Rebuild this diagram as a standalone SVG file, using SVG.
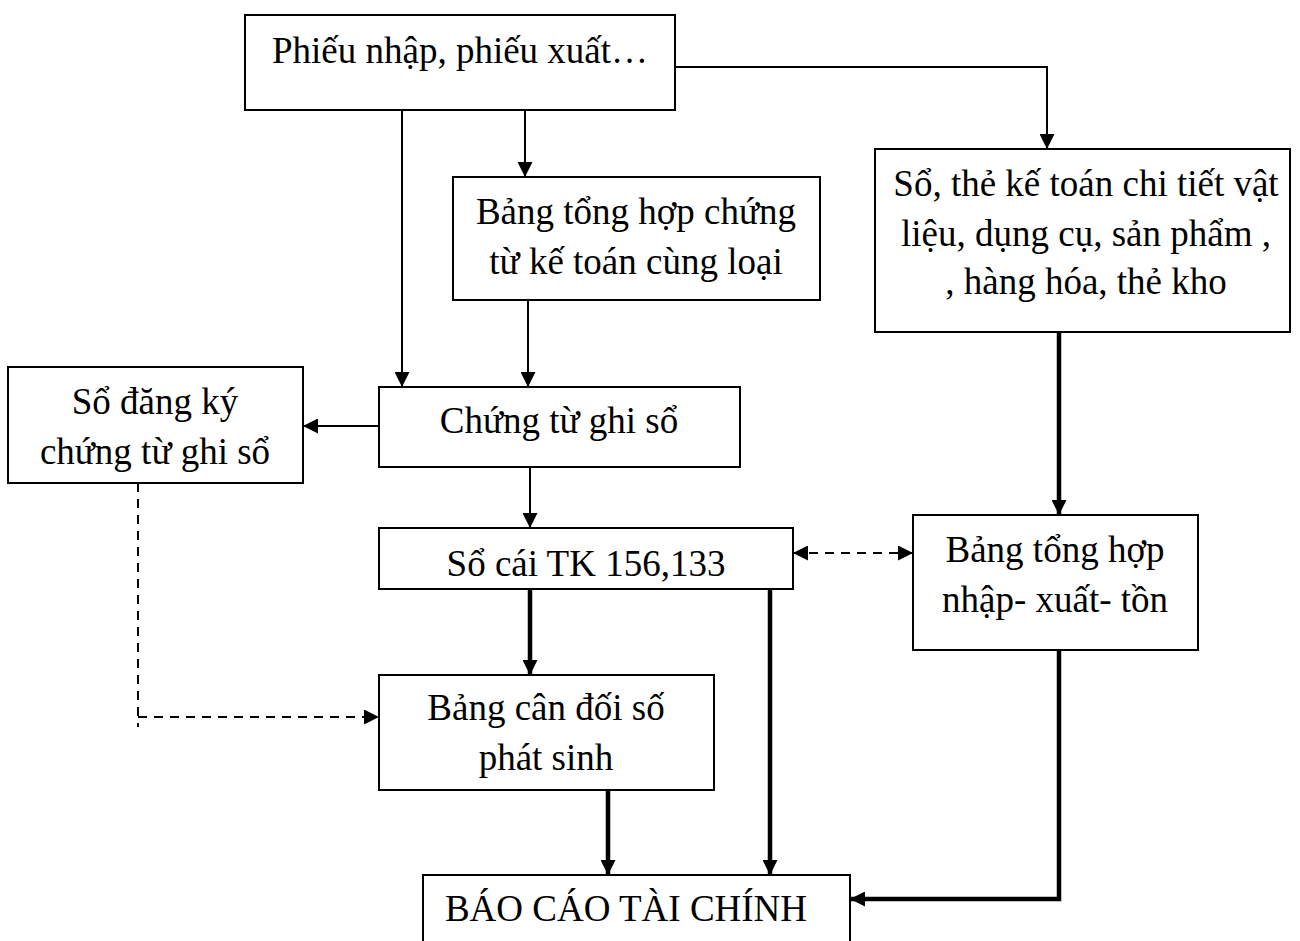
<svg xmlns="http://www.w3.org/2000/svg" width="1300" height="941" viewBox="0 0 1300 941">
<style>
.box{fill:#fff;stroke:#000;stroke-width:2}
text{font-family:"Liberation Serif","Times New Roman",serif;font-size:37px;fill:#000;text-anchor:middle}
.thin{stroke:#000;stroke-width:2;fill:none}
.thick{stroke:#000;stroke-width:4.5;fill:none}
.dash{stroke:#000;stroke-width:2;fill:none;stroke-dasharray:9,7}
</style>
<defs>
<marker id="ah" viewBox="0 0 10 10" refX="10" refY="5" markerWidth="15" markerHeight="15" markerUnits="userSpaceOnUse" orient="auto-start-reverse"><path d="M0,0 L10,5 L0,10 z" fill="#000"/></marker>
<marker id="ahk" viewBox="0 0 10 10" refX="10" refY="5" markerWidth="15" markerHeight="15" markerUnits="userSpaceOnUse" orient="auto-start-reverse"><path d="M0,0 L10,5 L0,10 z" fill="#000"/></marker>
</defs>
<g id="connectors">
<path class="thin" d="M675,67 H1047 V149" marker-end="url(#ah)"/>
<path class="thin" d="M402,110 V387" marker-end="url(#ah)"/>
<path class="thin" d="M525,110 V177" marker-end="url(#ah)"/>
<path class="thin" d="M528,300 V387" marker-end="url(#ah)"/>
<path class="thin" d="M379,426 H303" marker-end="url(#ah)"/>
<path class="thin" d="M530,467 V528" marker-end="url(#ah)"/>
<path class="dash" d="M793,553 H913" marker-start="url(#ah)" marker-end="url(#ah)"/>
<path class="dash" d="M138,483 V727 M138,717 H379" marker-end="url(#ah)"/>
<path class="thick" d="M1059,332 V515" marker-end="url(#ahk)"/>
<path class="thick" d="M530,589 V675" marker-end="url(#ahk)"/>
<path class="thick" d="M608,790 V875" marker-end="url(#ahk)"/>
<path class="thick" d="M770,589 V875" marker-end="url(#ahk)"/>
<path class="thick" d="M1059,650 V899 H850" marker-end="url(#ahk)"/>
</g>
<g id="phieu">
<rect class="box" x="245" y="15" width="430" height="95"/>
<text x="460" y="63">Phiếu nhập, phiếu xuất…</text>
</g>
<g id="bang-tong-hop-chung-tu">
<rect class="box" x="453" y="177" width="367" height="123"/>
<text x="636" y="224">Bảng tổng hợp chứng</text>
<text x="636" y="274">từ kế toán cùng loại</text>
</g>
<g id="so-the">
<rect class="box" x="875" y="149" width="415" height="183"/>
<text x="1086" y="196">Sổ, thẻ kế toán chi tiết vật</text>
<text x="1086" y="246">liệu, dụng cụ, sản phẩm ,</text>
<text x="1086" y="294">, hàng hóa, thẻ kho</text>
</g>
<g id="so-dang-ky">
<rect class="box" x="8" y="367" width="295" height="116"/>
<text x="155" y="414">Sổ đăng ký</text>
<text x="155" y="464">chứng từ ghi sổ</text>
</g>
<g id="chung-tu-ghi-so">
<rect class="box" x="379" y="387" width="361" height="80"/>
<text x="559" y="433">Chứng từ ghi sổ</text>
</g>
<g id="so-cai">
<rect class="box" x="379" y="528" width="414" height="61"/>
<text x="586" y="576">Sổ cái TK 156,133</text>
</g>
<g id="bang-nxt">
<rect class="box" x="913" y="515" width="285" height="135"/>
<text x="1055" y="562">Bảng tổng hợp</text>
<text x="1055" y="612">nhập- xuất- tồn</text>
</g>
<g id="bang-can-doi">
<rect class="box" x="379" y="675" width="335" height="115"/>
<text x="546" y="720">Bảng cân đối số</text>
<text x="546" y="770">phát sinh</text>
</g>
<g id="bao-cao">
<rect class="box" x="423" y="875" width="427" height="80"/>
<text x="626" y="921">BÁO CÁO TÀI CHÍNH</text>
</g>
</svg>
